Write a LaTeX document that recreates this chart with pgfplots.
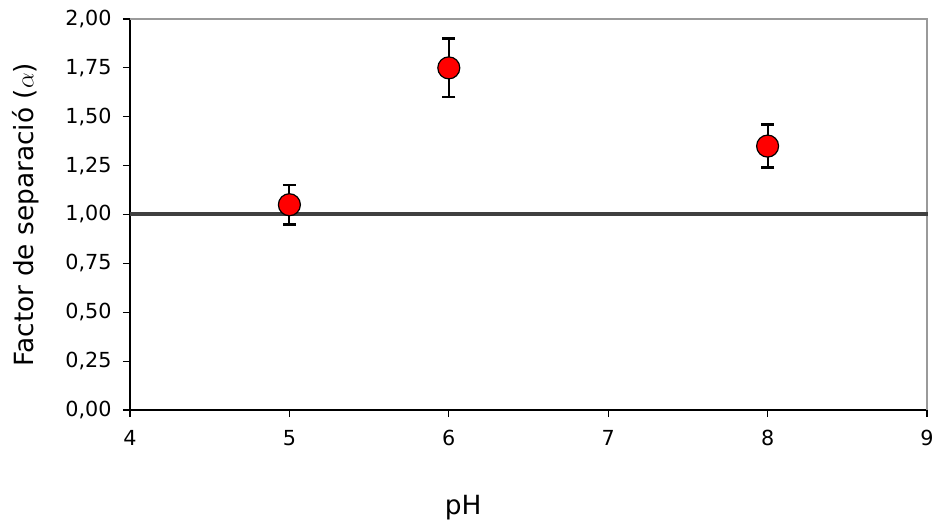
\documentclass[border=0pt]{standalone}
\usepackage{fontspec}
\setmainfont{DejaVu Sans}
\usepackage{pgfplots}
\pgfplotsset{compat=1.18}
\definecolor{refline}{HTML}{404040}
\definecolor{boxgray}{HTML}{9A9A9A}
\begin{document}
\begin{tikzpicture}
\path[use as bounding box] (-130bp,-114bp) rectangle (805bp,410bp);
\begin{axis}[
  at={(0,0)}, anchor=south west,
  scale only axis, width=797bp, height=391bp,
  xmin=4, xmax=9, ymin=0, ymax=2,
  xtick={4,5,6,7,8,9},
  ytick={0,0.25,0.5,0.75,1,1.25,1.5,1.75,2},
  axis lines=left, axis line style={-, black, line width=1.5bp},
  tick align=outside, xtick pos=bottom, ytick pos=left,
  major tick length=7bp, tick style={black, line width=1.2bp},
  /pgf/number format/assume math mode=true,
  ticklabel style={font=\fontsize{20.8}{23}\selectfont},
  xticklabel style={yshift=-10bp},
  yticklabel style={xshift=-8bp, /pgf/number format/.cd, fixed, fixed zerofill, precision=2, use comma},
  xlabel={pH}, ylabel={Factor de separació ($\alpha$)},
  label style={font=\fontsize{26.5}{29}\selectfont},
  xlabel style={at={(axis description cs:0.418,-0.2685)}, anchor=base},
  ylabel style={at={(axis description cs:-0.131,0.5)}, anchor=center, rotate=0},
  clip=false,
]
\draw[boxgray, line width=1.5bp] (rel axis cs:0,1) -- (rel axis cs:1,1) -- (rel axis cs:1,0);
\addplot[refline, line width=4bp, forget plot] coordinates {(4,1) (9.005,1)};
\addplot[only marks, mark=*, mark size=11bp,
  mark options={fill=red, draw=black, line width=1.2bp},
  error bars/.cd, y dir=both, y explicit,
  error bar style={black, line width=2.2bp},
  error mark options={rotate=90, mark size=6.5bp, black, line width=2.5bp}]
  coordinates {
    (5,1.05) +- (0,0.10)
    (6,1.75) +- (0,0.15)
    (8,1.35) +- (0,0.11)
  };
\end{axis}
\end{tikzpicture}
\end{document}
